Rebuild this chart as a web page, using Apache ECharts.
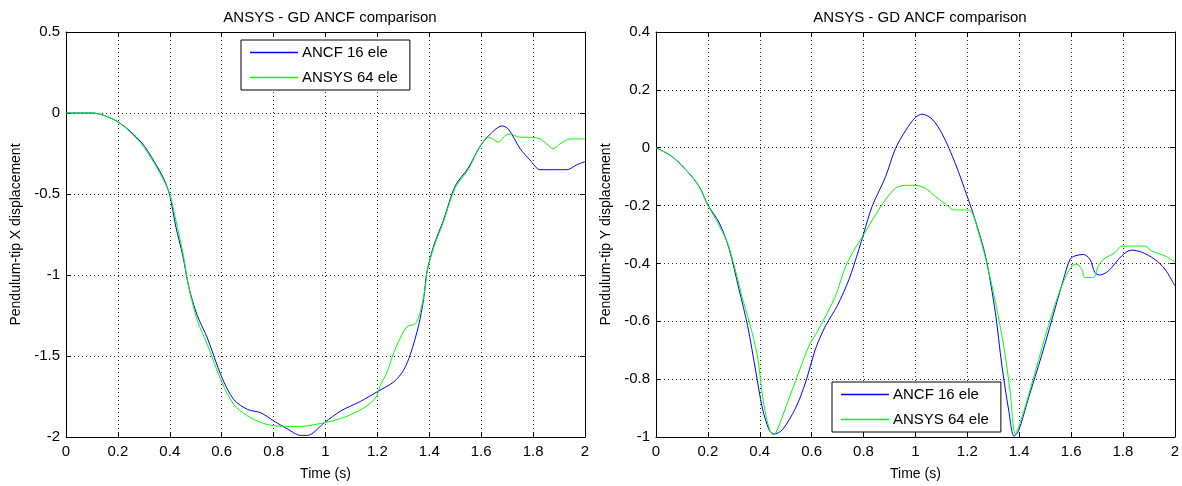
<!DOCTYPE html>
<html>
<head>
<meta charset="utf-8">
<script src="https://cdn.jsdelivr.net/npm/echarts@6/dist/echarts.min.js"></script>
<style>
  html, body { margin: 0; padding: 0; background: #fff; }
  #chart { width: 1182px; height: 486px; }
</style>
</head>
<body>
<div id="chart"></div>
<script>
// values: [time (s), displacement]
var ancfX = [[0,0],[0.1,0],[0.2,-0.055],[0.29,-0.18],[0.34,-0.30],[0.378,-0.41],[0.4,-0.51],[0.423,-0.70],[0.45,-0.88],[0.474,-1.08],[0.506,-1.25],[0.545,-1.39],[0.6,-1.63],[0.647,-1.77],[0.7,-1.83],[0.75,-1.85],[0.8,-1.90],[0.853,-1.95],[0.904,-1.99],[0.93,-1.99],[0.997,-1.91],[1.058,-1.84],[1.135,-1.78],[1.2,-1.72],[1.263,-1.66],[1.30,-1.59],[1.327,-1.49],[1.359,-1.31],[1.378,-1.15],[1.391,-0.98],[1.417,-0.82],[1.455,-0.66],[1.5,-0.45],[1.55,-0.34],[1.594,-0.21],[1.635,-0.13],[1.68,-0.08],[1.705,-0.10],[1.75,-0.22],[1.788,-0.29],[1.827,-0.35],[1.878,-0.35],[1.93,-0.35],[1.968,-0.32],[2.0,-0.30]];
var ansysX = [[0,0],[0.1,0],[0.2,-0.055],[0.29,-0.19],[0.34,-0.31],[0.378,-0.42],[0.4,-0.50],[0.423,-0.66],[0.45,-0.86],[0.474,-1.08],[0.506,-1.28],[0.545,-1.43],[0.6,-1.66],[0.647,-1.80],[0.7,-1.87],[0.75,-1.91],[0.8,-1.93],[0.9,-1.935],[1.0,-1.91],[1.07,-1.88],[1.148,-1.82],[1.192,-1.76],[1.212,-1.68],[1.237,-1.60],[1.263,-1.48],[1.288,-1.39],[1.314,-1.32],[1.346,-1.30],[1.365,-1.23],[1.385,-1.07],[1.391,-0.98],[1.417,-0.83],[1.455,-0.67],[1.5,-0.46],[1.55,-0.35],[1.594,-0.21],[1.628,-0.15],[1.64,-0.156],[1.667,-0.18],[1.692,-0.14],[1.712,-0.13],[1.75,-0.15],[1.788,-0.15],[1.827,-0.16],[1.852,-0.19],[1.878,-0.22],[1.904,-0.19],[1.942,-0.16],[2.0,-0.16]];
var ancfY = [[0,0],[0.064,-0.032],[0.128,-0.089],[0.167,-0.135],[0.2,-0.198],[0.244,-0.26],[0.282,-0.35],[0.32,-0.49],[0.353,-0.615],[0.385,-0.775],[0.41,-0.90],[0.436,-0.975],[0.455,-0.99],[0.487,-0.975],[0.538,-0.90],[0.577,-0.81],[0.615,-0.695],[0.654,-0.615],[0.699,-0.546],[0.744,-0.455],[0.782,-0.352],[0.801,-0.295],[0.833,-0.203],[0.885,-0.10],[0.923,-0.003],[0.962,0.059],[1.0,0.105],[1.026,0.116],[1.064,0.099],[1.103,0.048],[1.154,-0.055],[1.2,-0.169],[1.23,-0.249],[1.27,-0.374],[1.308,-0.569],[1.333,-0.751],[1.36,-0.91],[1.38,-0.997],[1.397,-0.98],[1.436,-0.865],[1.487,-0.717],[1.538,-0.557],[1.571,-0.454],[1.596,-0.386],[1.615,-0.374],[1.647,-0.369],[1.673,-0.386],[1.692,-0.432],[1.71,-0.44],[1.744,-0.426],[1.795,-0.374],[1.833,-0.354],[1.872,-0.361],[1.923,-0.386],[1.962,-0.42],[2.0,-0.477]];
var ansysY = [[0,0],[0.064,-0.032],[0.128,-0.089],[0.167,-0.135],[0.2,-0.198],[0.244,-0.27],[0.276,-0.33],[0.308,-0.43],[0.333,-0.52],[0.359,-0.60],[0.391,-0.72],[0.41,-0.855],[0.429,-0.946],[0.449,-0.99],[0.462,-0.986],[0.513,-0.866],[0.551,-0.775],[0.59,-0.684],[0.628,-0.626],[0.692,-0.512],[0.731,-0.41],[0.769,-0.346],[0.801,-0.30],[0.846,-0.232],[0.885,-0.18],[0.923,-0.14],[0.962,-0.13],[1.0,-0.13],[1.038,-0.14],[1.077,-0.169],[1.128,-0.203],[1.147,-0.215],[1.205,-0.215],[1.244,-0.295],[1.295,-0.477],[1.34,-0.683],[1.365,-0.842],[1.385,-0.99],[1.41,-0.934],[1.462,-0.774],[1.513,-0.614],[1.564,-0.477],[1.603,-0.409],[1.622,-0.403],[1.641,-0.42],[1.654,-0.449],[1.686,-0.449],[1.705,-0.409],[1.724,-0.386],[1.769,-0.363],[1.795,-0.34],[1.82,-0.34],[1.885,-0.34],[1.91,-0.357],[1.962,-0.374],[2.0,-0.395]];

var seriesNames = ['ANCF 16 ele', 'ANSYS 64 ele'];
var titleText = 'ANSYS - GD ANCF comparison';
var xName = 'Time (s)';
var yNames = ['Pendulum-tip X displacement', 'Pendulum-tip Y displacement'];

var font = '"Liberation Sans", Arial, sans-serif';
var dots = { type: [1, 3], color: '#222', width: 1 };

function xAx(grid, pos) {
    var bottom = pos == 'bottom';
    return {
        type: 'value', gridIndex: grid, position: pos, min: 0, max: 2, interval: 0.2,
        name: bottom ? xName : '', nameLocation: 'middle', nameGap: 30,
        nameTextStyle: { color: '#000', fontSize: 14, fontFamily: font },
        axisLine: { onZero: false, lineStyle: { color: '#000', width: 1 } },
        axisTick: { show: true, inside: true, length: 5, lineStyle: { color: '#000' } },
        axisLabel: { show: bottom, color: '#000', fontSize: 15, fontFamily: font, margin: 7 },
        splitLine: { show: bottom, lineStyle: dots }
    };
}
function yAx(grid, pos, min, max, step, name) {
    var left = pos == 'left';
    return {
        type: 'value', gridIndex: grid, position: pos, min: min, max: max, interval: step,
        name: left ? name : '', nameLocation: 'middle', nameGap: 43,
        nameTextStyle: { color: '#000', fontSize: 14, fontFamily: font },
        axisLine: { onZero: false, lineStyle: { color: '#000', width: 1 } },
        axisTick: { show: true, inside: true, length: 5, lineStyle: { color: '#000' } },
        axisLabel: { show: left, color: '#000', fontSize: 15, fontFamily: font, margin: 6 },
        splitLine: { show: left, lineStyle: dots }
    };
}
function line(name, data, xi, yi, color) {
    return {
        name: name, type: 'line', data: data, xAxisIndex: xi, yAxisIndex: yi,
        symbol: 'none', smooth: 0.3, lineStyle: { color: color, width: 1 },
        itemStyle: { color: color }
    };
}
function legend(idx, left, top) {
    return {
        data: seriesNames.map(function (n) { return { name: n, icon: 'path://M0,0L48,0L48,1.4L0,1.4Z' }; }),
        orient: 'vertical', left: left, top: top,
        backgroundColor: '#fff', borderColor: '#000', borderWidth: 1,
        padding: [5, 12, 5, 9], itemWidth: 48, itemHeight: 15, itemGap: 10,
        textStyle: { color: '#000', fontSize: 15, fontFamily: font, padding: [0, 0, 0, -1] },
        selectedMode: false
    };
}

var myChart = echarts.init(document.getElementById('chart'));
var option = {
    animation: false,
    backgroundColor: '#fff',
    title: [
        { text: titleText, left: 325, top: 5, textAlign: 'center', textStyle: { color: '#000', fontSize: 15, fontWeight: 'normal', fontFamily: font } },
        { text: titleText, left: 915, top: 5, textAlign: 'center', textStyle: { color: '#000', fontSize: 15, fontWeight: 'normal', fontFamily: font } }
    ],
    grid: [
        { left: 66, top: 32, width: 519, height: 406 },
        { left: 656, top: 32, width: 519, height: 406 }
    ],
    xAxis: [xAx(0, 'bottom'), xAx(0, 'top'), xAx(1, 'bottom'), xAx(1, 'top')],
    yAxis: [
        yAx(0, 'left', -2, 0.5, 0.5, yNames[0]), yAx(0, 'right', -2, 0.5, 0.5, ''),
        yAx(1, 'left', -1, 0.4, 0.2, yNames[1]), yAx(1, 'right', -1, 0.4, 0.2, '')
    ],
    legend: [legend(0, 241, 40), legend(1, 832, 382)],
    series: [
        line(seriesNames[0], ancfX, 0, 0, '#0000ff'),
        line(seriesNames[1], ansysX, 0, 0, '#00ff00'),
        line(seriesNames[0], ancfY, 2, 2, '#0000ff'),
        line(seriesNames[1], ansysY, 2, 2, '#00ff00')
    ]
};
myChart.setOption(option);
</script>
</body>
</html>
